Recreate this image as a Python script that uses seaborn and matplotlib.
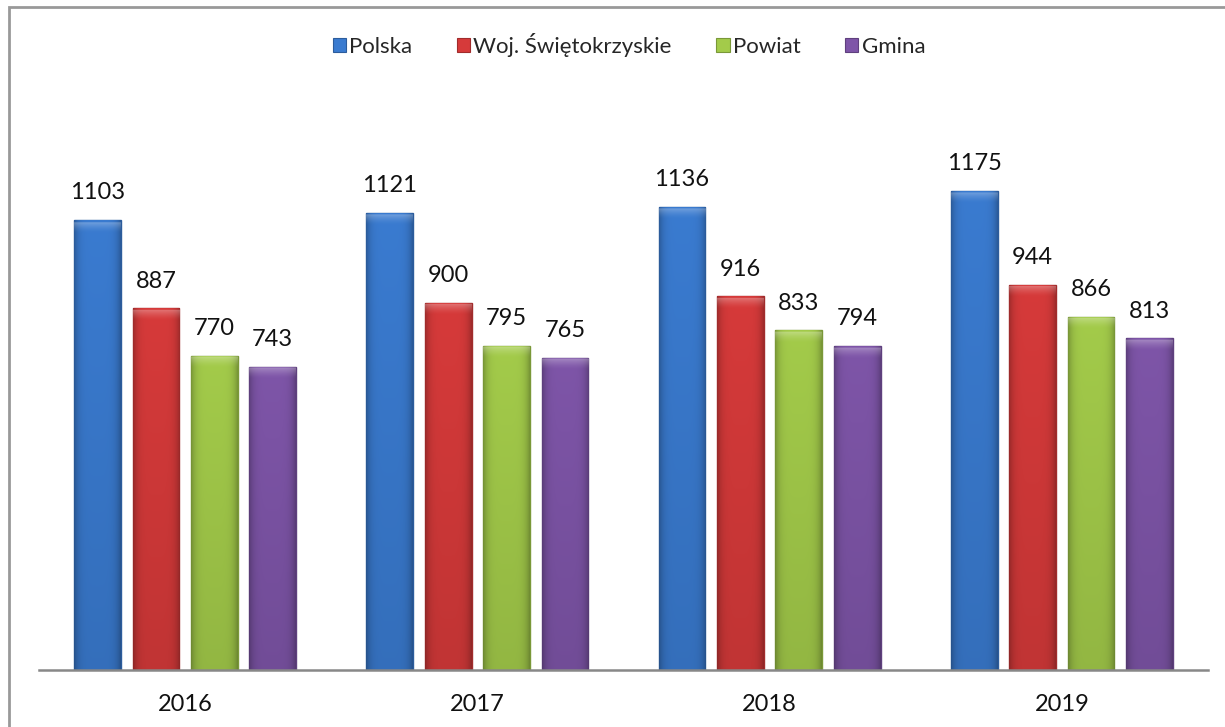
import numpy as np
import pandas as pd
import matplotlib
matplotlib.use("Agg")
import matplotlib.pyplot as plt
import matplotlib.colors as mcolors
from matplotlib.patches import Rectangle, Patch
import seaborn as sns

years = ["2016", "2017", "2018", "2019"]
series = ["Polska", "Woj. Świętokrzyskie", "Powiat", "Gmina"]
polska = [1103, 1121, 1136, 1175]
woj = [887, 900, 916, 944]
powiat = [770, 795, 833, 866]
gmina = [743, 765, 794, 813]
colors = ["#3A7BD0", "#D63A3A", "#A3CB4A", "#7E55A8"]

df = pd.DataFrame({
    "Rok": years * 4,
    "Obszar": sum([[s] * 4 for s in series], []),
    "Wartość": polska + woj + powiat + gmina,
})

sns.set_theme(style="white")
plt.rcParams["font.family"] = ["Lato", "DejaVu Sans"]

fig = plt.figure(figsize=(12.25, 7.27), dpi=100)
ax = fig.add_axes([39 / 1225, 1 - 670 / 727, (1208 - 39) / 1225, (670 - 99) / 727])

sns.barplot(data=df, x="Rok", y="Wartość", hue="Obszar", hue_order=series,
            palette=colors, width=0.8, gap=0.2, ax=ax, legend=False,
            saturation=1, linewidth=1.0)

ymax = 1400
px_per_unit = (670 - 99) / ymax

# darker edges + shaded fill (bevel look)
for cont, col in zip(ax.containers, colors):
    base = np.array(mcolors.to_rgb(col))
    dark = base * 0.75
    for p in cont.patches:
        p.set_edgecolor(dark)
        x0, y0 = p.get_x(), p.get_y()
        w, h = p.get_width(), p.get_height()
        nx, ny = 48, 400
        xs = np.linspace(0, 1, nx)
        ys = np.linspace(0, 1, ny)
        fx = 1 - 0.25 * np.abs(2 * xs - 1) ** 5
        fy = 0.9 + 0.1 * ys
        img = base[None, None, :] * (fy[:, None, None] * fx[None, :, None])
        # smooth top highlight fading over ~12 px
        dist_px = (1 - ys) * h * px_per_unit
        hl = np.clip(1 - dist_px / 12.0, 0, 1) ** 1.5 * 0.35
        hl = np.where(dist_px < 1.5, 0.0, hl)
        img = img + (1 - img) * hl[:, None, None]
        img = np.clip(img, 0, 1)
        im = ax.imshow(img, extent=(x0, x0 + w, y0, y0 + h), origin="lower",
                       aspect="auto", zorder=p.get_zorder() + 0.1, interpolation="bilinear")
        im.set_clip_path(p)
    ax.bar_label(cont, fmt="%d", padding=12, fontsize=17, color="#111111")

ax.set_xlim(-0.5, 3.5)
ax.set_ylim(0, ymax)
ax.set_xlabel("")
ax.set_ylabel("")
ax.set_yticks([])
for s in ["top", "right", "left"]:
    ax.spines[s].set_visible(False)
ax.spines["bottom"].set_color("#888888")
ax.spines["bottom"].set_linewidth(1.8)
ax.tick_params(axis="x", length=0, pad=17, labelsize=17, labelcolor="#111111")
ax.set_facecolor("none")

handles = [Patch(facecolor=c, edgecolor=np.array(mcolors.to_rgb(c)) * 0.75, linewidth=0.8) for c in colors]
fig.legend(handles, series, loc="center", bbox_to_anchor=(629 / 1225, 1 - 45 / 727),
           ncol=4, frameon=False, fontsize=16, handlelength=0.6, handleheight=0.6,
           handletextpad=0.15, columnspacing=2.0)

# outer border (top and left visible)
fig.patches.append(Rectangle((9 / 1225, -0.1), 1.2, 1.1 - 7 / 727,
                             transform=fig.transFigure, fill=False,
                             edgecolor="#999999", linewidth=2))

fig.savefig("out.png", dpi=100)
